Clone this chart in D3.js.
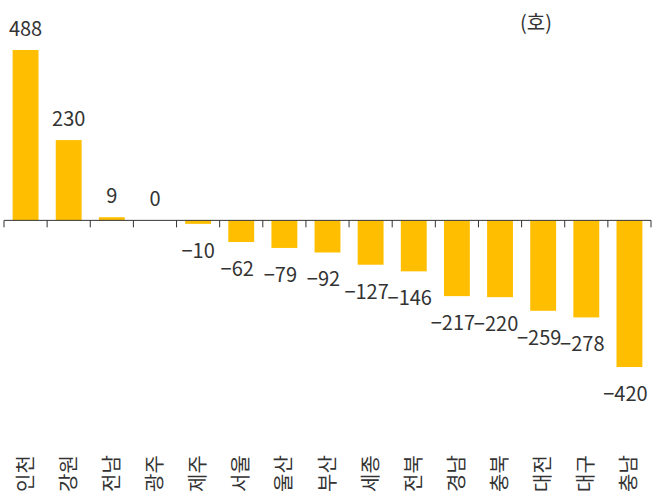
<!DOCTYPE html><html><head><meta charset="utf-8"><script src="https://cdn.jsdelivr.net/npm/d3@7"></script>
<style>body{margin:0;background:#fff}text{font-family:"Noto Sans CJK KR","Noto Sans",sans-serif}</style></head><body><svg id="c" width="657" height="502"></svg>
<script>
const categories=["인천","강원","전남","광주","제주","서울","울산","부산","세종","전북","경남","충북","대전","대구","충남"];
const values=[488,230,9,0,-10,-62,-79,-92,-127,-146,-217,-220,-259,-278,-420];
const labels=["488","230","9","0","−10","−62","−79","−92","−127","−146","−217","−220","−259","−278","−420"];
const svg=d3.select("#c");
const x=d3.scaleBand().domain(categories).range([4,651]).paddingInner(0.4).paddingOuter(0.2);
const y=d3.scaleLinear().domain([-420,488]).range([367,50]);
svg.selectAll("rect").data(values).join("rect")
 .attr("x",(d,i)=>x(categories[i])).attr("width",x.bandwidth())
 .attr("y",d=>y(Math.max(0,d))).attr("height",d=>Math.abs(y(d)-y(0)))
 .attr("fill","#FFBF00");
const step=x.step();
svg.append("line").attr("x1",4).attr("x2",651).attr("y1",y(0)).attr("y2",y(0)).attr("stroke","#333");
d3.range(categories.length+1).forEach(i=>{const xx=4+step*0.2-step*0.2+ i*(647/15);
 svg.append("line").attr("x1",xx).attr("x2",xx).attr("y1",y(0)).attr("y2",y(0)+7).attr("stroke","#333");});
svg.selectAll("text.v").data(values).join("text").attr("class","v")
 .attr("x",(d,i)=>x(categories[i])+x.bandwidth()/2+(d<0&&i>4?-4:0))
 .attr("y",d=>d>=0?y(d)-14:y(d)+34).attr("text-anchor","middle")
 .attr("font-size",20).attr("fill","#333").text((d,i)=>labels[i]);
svg.selectAll("text.c").data(categories).join("text").attr("class","c")
 .attr("transform",d=>`translate(${x(d)+x.bandwidth()/2+7},492) rotate(-90)`)
 .attr("font-size",20).attr("fill","#333").text(d=>d);
svg.append("text").attr("x",520).attr("y",30).attr("font-size",20).attr("fill","#333").text("(호)");
</script></body></html>
